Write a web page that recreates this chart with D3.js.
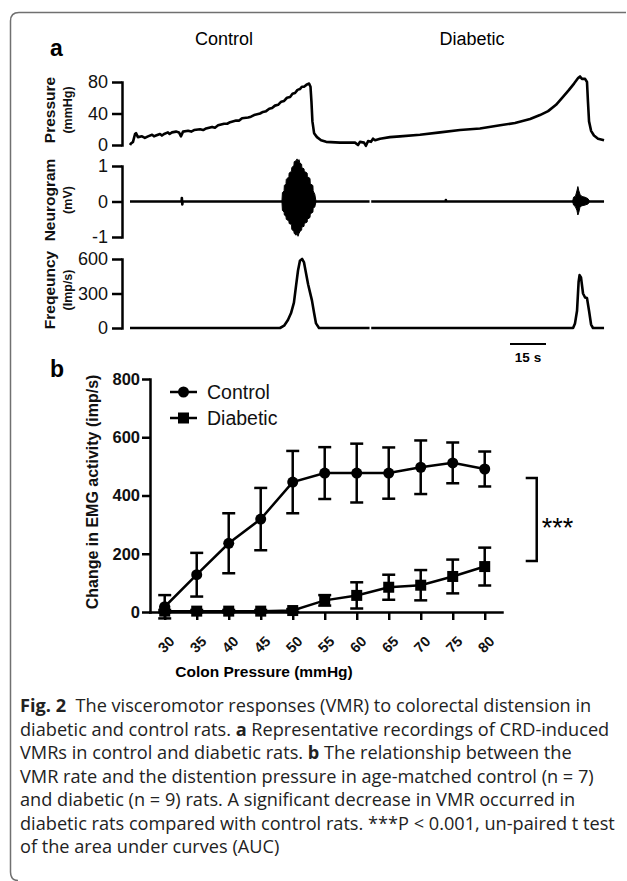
<!DOCTYPE html>
<html>
<head>
<meta charset="utf-8">
<script src="https://cdn.jsdelivr.net/npm/d3@7"></script>
<style>
body { margin: 0; background: #fff; }
svg { display: block; }
</style>
</head>
<body>
<script>
var width = 627;
var height = 881;

// ---- panel a : representative recordings (time in s) ----
var pressureTrace = [
  [0,0],[0.4,2],[1.25,4],[2.1,14],[2.5,15],[3.3,10],[5,11],[6.2,9],[7.5,11],[9.2,13],[10,11],
  [10.8,12],[12.5,14],[13.3,12],[14.2,14],[15.8,16],[16.5,14],[17.5,16],[19.2,17],[20.4,16],
  [21.25,11],[22.1,17],[24.2,18],[25.5,17],[26.7,19],[29.2,20],[30.5,19],[31.7,21],[34.2,23],
  [35.4,22],[36.7,25],[39.2,27],[40.5,27],[41.7,29],[44.2,31],[45.5,31],[46.7,34],[49.2,35],
  [50.4,36],[51.7,38],[54.2,40],[55.4,42],[56.7,43],[58,46],[59.2,47],[60.4,50],[61.7,51],
  [63,55],[64.2,56],[65.4,60],[66.7,61],[67.7,65],[68.75,66],[69.8,70],[70.8,71],[71.6,74],
  [72.5,74],[73.75,77],[74.6,78],[75.2,74],[75.6,55],[76.0,30],[76.7,15],[77.9,10],[79.6,6],
  [81.7,4],[87.5,3],[93.75,3],[95,0],[95.8,4],[97.5,3],[98.3,-1],[99.2,5],[100.4,4],
  [101.25,8],[102.1,6],[104.2,8],[108.3,10],[112.5,11],[120.8,13],[129.2,16],[137.5,19],
  [145.8,21],[154.2,25],[160.4,28],[166.7,33],[170.8,38],[174.2,43],[177.5,51],[180.4,61],
  [182.9,70],[185,78],[186.7,85],[187.5,87],[188.3,84],[189.6,84],[190.4,80],[190.8,55],
  [191.25,30],[192.1,18],[193.3,12],[195,8],[197.5,6]
];
var neuroBaseline = [
  [0,0],[21.5,0],[21.6,0.1],[21.8,-0.08],[21.9,0],[99.8,0],[100.0,null],[100.5,0],
  [131.5,0],[131.6,0.04],[131.7,0],[197.5,0]
];
var controlBurst = [
  [63.3,0,0],[63.5,0.25,-0.25],[64.2,0.3,-0.3],[64.3,0.45,-0.38],[65.0,0.5,-0.42],
  [65.1,0.62,-0.5],[66.2,0.7,-0.55],[66.3,0.8,-0.62],[67.3,0.85,-0.65],[67.4,0.95,-0.78],
  [68.3,1.02,-0.85],[68.4,1.12,-0.9],[69.2,1.15,-0.95],[69.6,1.2,-0.88],[70.0,1.12,-0.98],
  [70.4,1.18,-0.9],[70.8,1.08,-0.85],[71.5,1.05,-0.8],[71.6,0.95,-0.72],[72.5,0.92,-0.7],
  [72.6,0.85,-0.62],[73.8,0.8,-0.58],[73.9,0.7,-0.5],[75.0,0.65,-0.45],[75.1,0.5,-0.35],
  [76.2,0.45,-0.3],[76.3,0.3,-0.2],[77.0,0.2,-0.15],[77.5,0,0]
];
var diabeticBurst = [
  [184.4,0,0],[184.8,0.12,-0.1],[185.6,0.15,-0.15],[186.2,0.3,-0.25],[186.6,0.42,-0.38],
  [187.0,0.3,-0.3],[187.5,0.2,-0.15],[188.3,0.14,-0.12],[189.6,0.12,-0.1],[190.8,0.08,-0.07],
  [191.5,0,0]
];
var freqTrace = [
  [0,0],[62.5,0],[64.2,20],[65.8,70],[67.1,130],[68.3,220],[69.2,370],[70,500],[70.8,585],
  [71.7,600],[72.5,570],[73.3,480],[74.2,380],[75,310],[75.8,240],[76.7,130],[77.5,40],
  [78.75,0],[99.8,0],[100,null],[100.5,0],[184.6,0],[185.4,40],[186.25,150],[186.9,400],
  [187.3,460],[187.9,440],[188.75,300],[189.6,265],[190.4,260],[191.25,150],[192.1,30],
  [192.9,0],[197.5,0]
];
var pressureTicks = [0, 40, 80];
var neuroTicks = [-1, 0, 1];
var freqTicks = [0, 300, 600];
var scaleBarSeconds = 15;

// ---- panel b : VMR vs distension pressure ----
var colonPressure = [30, 35, 40, 45, 50, 55, 60, 65, 70, 75, 80];
var controlMean = [18, 128, 236, 319, 446, 477, 477, 477, 497, 512, 491];
var controlSem = [40, 75, 103, 107, 107, 89, 101, 88, 92, 70, 60];
var diabeticMean = [3, 3, 3, 3, 5, 40, 57, 85, 92, 122, 156];
var diabeticSem = [4, 4, 4, 4, 5, 18, 45, 43, 52, 58, 65];
var emgTicks = [0, 200, 400, 600, 800];
var sigRange = [175, 460];

var caption = [
  [["Fig. 2", true], ["  The visceromotor responses (VMR) to colorectal distension in", false]],
  [["diabetic and control rats. ", false], ["a", true], [" Representative recordings of CRD-induced", false]],
  [["VMRs in control and diabetic rats. ", false], ["b", true], [" The relationship between the", false]],
  [["VMR rate and the distention pressure in age-matched control (n = 7)", false]],
  [["and diabetic (n = 9) rats. A significant decrease in VMR occurred in", false]],
  [["diabetic rats compared with control rats. ***P < 0.001, un-paired t test", false]],
  [["of the area under curves (AUC)", false]]
];

var svg = d3.select("body")
            .append("svg")
            .attr("width", width)
            .attr("height", height)
            .style("font-family", "'Liberation Sans', Arial, Helvetica, sans-serif");

// rounded frame (only top and left edges are visible)
svg.append("path")
  .attr("d", "M626,12.5 H19 Q10.5,12.5 10.5,21 V872 Q10.5,880.5 18,880.5")
  .attr("fill", "none")
  .attr("stroke", "#707070")
  .attr("stroke-width", 1.5);

function styleAxis(g, fs, bold) {
  g.select(".domain").attr("stroke-width", 2.5).attr("stroke-linecap", "square");
  g.selectAll(".tick line").attr("stroke-width", 2.5);
  g.selectAll(".tick text")
    .attr("fill", "#111")
    .style("font-size", fs + "px")
    .style("font-weight", bold ? "bold" : "normal")
    .style("font-family", "'Liberation Sans', Arial, sans-serif");
}

function rotLabel(text, x, y, fs) {
  svg.append("text")
    .attr("transform", "translate(" + x + "," + y + ") rotate(-90)")
    .attr("text-anchor", "middle")
    .style("font-size", fs + "px")
    .style("font-weight", "bold")
    .attr("fill", "#111")
    .text(text);
}

var plainNum = function(d) { return d < 0 ? "-" + Math.abs(d) : String(d); };

// ---------- panel a ----------
var xT = d3.scaleLinear().domain([0, 197.9]).range([130, 605]);
var yP = d3.scaleLinear().domain([0, 80]).range([145, 82]);
var yN = d3.scaleLinear().domain([-1, 1]).range([237, 166]);
var yF = d3.scaleLinear().domain([0, 600]).range([328, 259]);

svg.append("text").attr("x", 50).attr("y", 56)
  .style("font-size", "23px").style("font-weight", "bold").text("a");
svg.append("text").attr("x", 224).attr("y", 45).attr("text-anchor", "middle")
  .style("font-size", "18px").text("Control");
svg.append("text").attr("x", 472).attr("y", 45).attr("text-anchor", "middle")
  .style("font-size", "18px").text("Diabetic");

[[yP, pressureTicks], [yN, neuroTicks], [yF, freqTicks]].forEach(function(p) {
  var g = svg.append("g").attr("transform", "translate(122,0)")
    .call(d3.axisLeft(p[0]).tickValues(p[1]).tickFormat(plainNum)
      .tickSize(10).tickSizeOuter(0).tickPadding(4));
  styleAxis(g, 18, false);
});

rotLabel("Pressure", 55, 110, 15.5);
rotLabel("(mmHg)", 72, 110, 12.5);
rotLabel("Neurogram", 55, 200, 15.5);
rotLabel("(mV)", 72, 200, 12.5);
rotLabel("Freqeuncy", 55, 290, 15.5);
rotLabel("(Imp/s)", 72, 290, 12.5);

function trace(data, y) {
  svg.append("path")
    .datum(data)
    .attr("fill", "none")
    .attr("stroke", "#000")
    .attr("stroke-width", 2.6)
    .attr("stroke-linejoin", "round")
    .attr("d", d3.line()
      .defined(function(d) { return d[1] !== null; })
      .x(function(d) { return xT(d[0]); })
      .y(function(d) { return y(d[1]); }));
}
trace(pressureTrace, yP);
trace(neuroBaseline, yN);
trace(freqTrace, yF);

var burstArea = d3.area()
  .x(function(d) { return xT(d[0]); })
  .y0(function(d) { return yN(d[2]); })
  .y1(function(d) { return yN(d[1]); });
[controlBurst, diabeticBurst].forEach(function(b) {
  svg.append("path").datum(b).attr("fill", "#000")
    .attr("stroke", "#000").attr("stroke-width", 1).attr("d", burstArea);
});

// scale bar
var barX0 = 510;
var barLen = xT(scaleBarSeconds) - xT(0);
svg.append("line").attr("x1", barX0).attr("x2", barX0 + barLen)
  .attr("y1", 344).attr("y2", 344).attr("stroke", "#000").attr("stroke-width", 2.2);
svg.append("text").attr("x", barX0 + barLen / 2).attr("y", 362).attr("text-anchor", "middle")
  .style("font-size", "13.5px").style("font-weight", "bold").text(scaleBarSeconds + " s");

// ---------- panel b ----------
var xB = d3.scaleLinear().domain([27.7, 82.7]).range([150, 502]);
var yB = d3.scaleLinear().domain([0, 800]).range([612, 379]);

svg.append("text").attr("x", 50).attr("y", 377)
  .style("font-size", "23px").style("font-weight", "bold").text("b");

var gy = svg.append("g").attr("transform", "translate(150,0)")
  .call(d3.axisLeft(yB).tickValues(emgTicks).tickSize(8).tickSizeOuter(0).tickPadding(2));
styleAxis(gy, 16.5, true);

var gx = svg.append("g").attr("transform", "translate(0,612)")
  .call(d3.axisBottom(xB).tickValues(colonPressure).tickSize(8).tickSizeOuter(0).tickPadding(0));
styleAxis(gx, 14.5, true);
gx.selectAll(".tick text")
  .attr("text-anchor", "end")
  .attr("dy", "0.35em")
  .attr("transform", "translate(1,21) rotate(-45)");

rotLabel("Change in EMG activity (imp/s)", 98, 492, 16);
svg.append("text").attr("x", 264).attr("y", 677).attr("text-anchor", "middle")
  .style("font-size", "15.5px").style("font-weight", "bold").text("Colon Pressure (mmHg)");

function series(means, sems, shape) {
  var pts = colonPressure.map(function(p, i) { return { x: p, m: means[i], e: sems[i] }; });
  var g = svg.append("g");
  g.append("path").datum(pts)
    .attr("fill", "none").attr("stroke", "#000").attr("stroke-width", 2.5)
    .attr("d", d3.line().x(function(d) { return xB(d.x); }).y(function(d) { return yB(d.m); }));
  var eb = g.selectAll(".eb").data(pts).enter().append("g")
    .attr("stroke", "#000").attr("stroke-width", 2.5);
  eb.append("line")
    .attr("x1", function(d) { return xB(d.x); }).attr("x2", function(d) { return xB(d.x); })
    .attr("y1", function(d) { return yB(d.m - d.e); }).attr("y2", function(d) { return yB(d.m + d.e); });
  [1, -1].forEach(function(s) {
    eb.append("line")
      .attr("x1", function(d) { return xB(d.x) - 6.5; }).attr("x2", function(d) { return xB(d.x) + 6.5; })
      .attr("y1", function(d) { return yB(d.m + s * d.e); }).attr("y2", function(d) { return yB(d.m + s * d.e); });
  });
  if (shape === "circle") {
    g.selectAll(".mk").data(pts).enter().append("circle")
      .attr("cx", function(d) { return xB(d.x); }).attr("cy", function(d) { return yB(d.m); })
      .attr("r", 5.5).attr("fill", "#000");
  } else {
    g.selectAll(".mk").data(pts).enter().append("rect")
      .attr("x", function(d) { return xB(d.x) - 5.5; }).attr("y", function(d) { return yB(d.m) - 5.5; })
      .attr("width", 11).attr("height", 11).attr("fill", "#000");
  }
}
series(diabeticMean, diabeticSem, "square");
series(controlMean, controlSem, "circle");

// legend
var legend = [["Control", "circle", 392], ["Diabetic", "square", 418]];
legend.forEach(function(l) {
  svg.append("line").attr("x1", 170).attr("x2", 197).attr("y1", l[2]).attr("y2", l[2])
    .attr("stroke", "#000").attr("stroke-width", 2.5);
  if (l[1] === "circle") {
    svg.append("circle").attr("cx", 183.5).attr("cy", l[2]).attr("r", 5.5).attr("fill", "#000");
  } else {
    svg.append("rect").attr("x", 178).attr("y", l[2] - 5.5).attr("width", 11).attr("height", 11).attr("fill", "#000");
  }
  svg.append("text").attr("x", 207).attr("y", l[2] + 7)
    .style("font-size", "19.5px").attr("fill", "#111").text(l[0]);
});

// significance bracket
var bx = xB(80) + 52;
svg.append("path")
  .attr("d", "M" + (bx - 11) + "," + yB(sigRange[1]) + " H" + bx + " V" + yB(sigRange[0]) + " H" + (bx - 11))
  .attr("fill", "none").attr("stroke", "#000").attr("stroke-width", 2.5);
svg.append("text").attr("x", bx + 5).attr("y", (yB(sigRange[0]) + yB(sigRange[1])) / 2 + 17)
  .style("font-size", "27px").text("***");

// ---------- caption ----------
var capY0 = 712, capStep = 23.5;
var capTexts = caption.map(function(line, i) {
  var t = svg.append("text")
    .attr("transform", "translate(20," + (capY0 + i * capStep) + ")")
    .style("font-family", "'Open Sans', 'Noto Sans', sans-serif")
    .style("font-size", "18.5px")
    .attr("fill", "#222");
  line.forEach(function(seg) {
    t.append("tspan").attr("xml:space", "preserve")
      .style("font-weight", seg[1] ? "bold" : "normal")
      .text(seg[0]);
  });
  return t;
});
var refLen = capTexts[5].node().getComputedTextLength();
var sx = 595 / refLen;
capTexts.forEach(function(t, i) {
  t.attr("transform", "translate(20," + (capY0 + i * capStep) + ") scale(" + sx + ",1)");
});
</script>
</body>
</html>
